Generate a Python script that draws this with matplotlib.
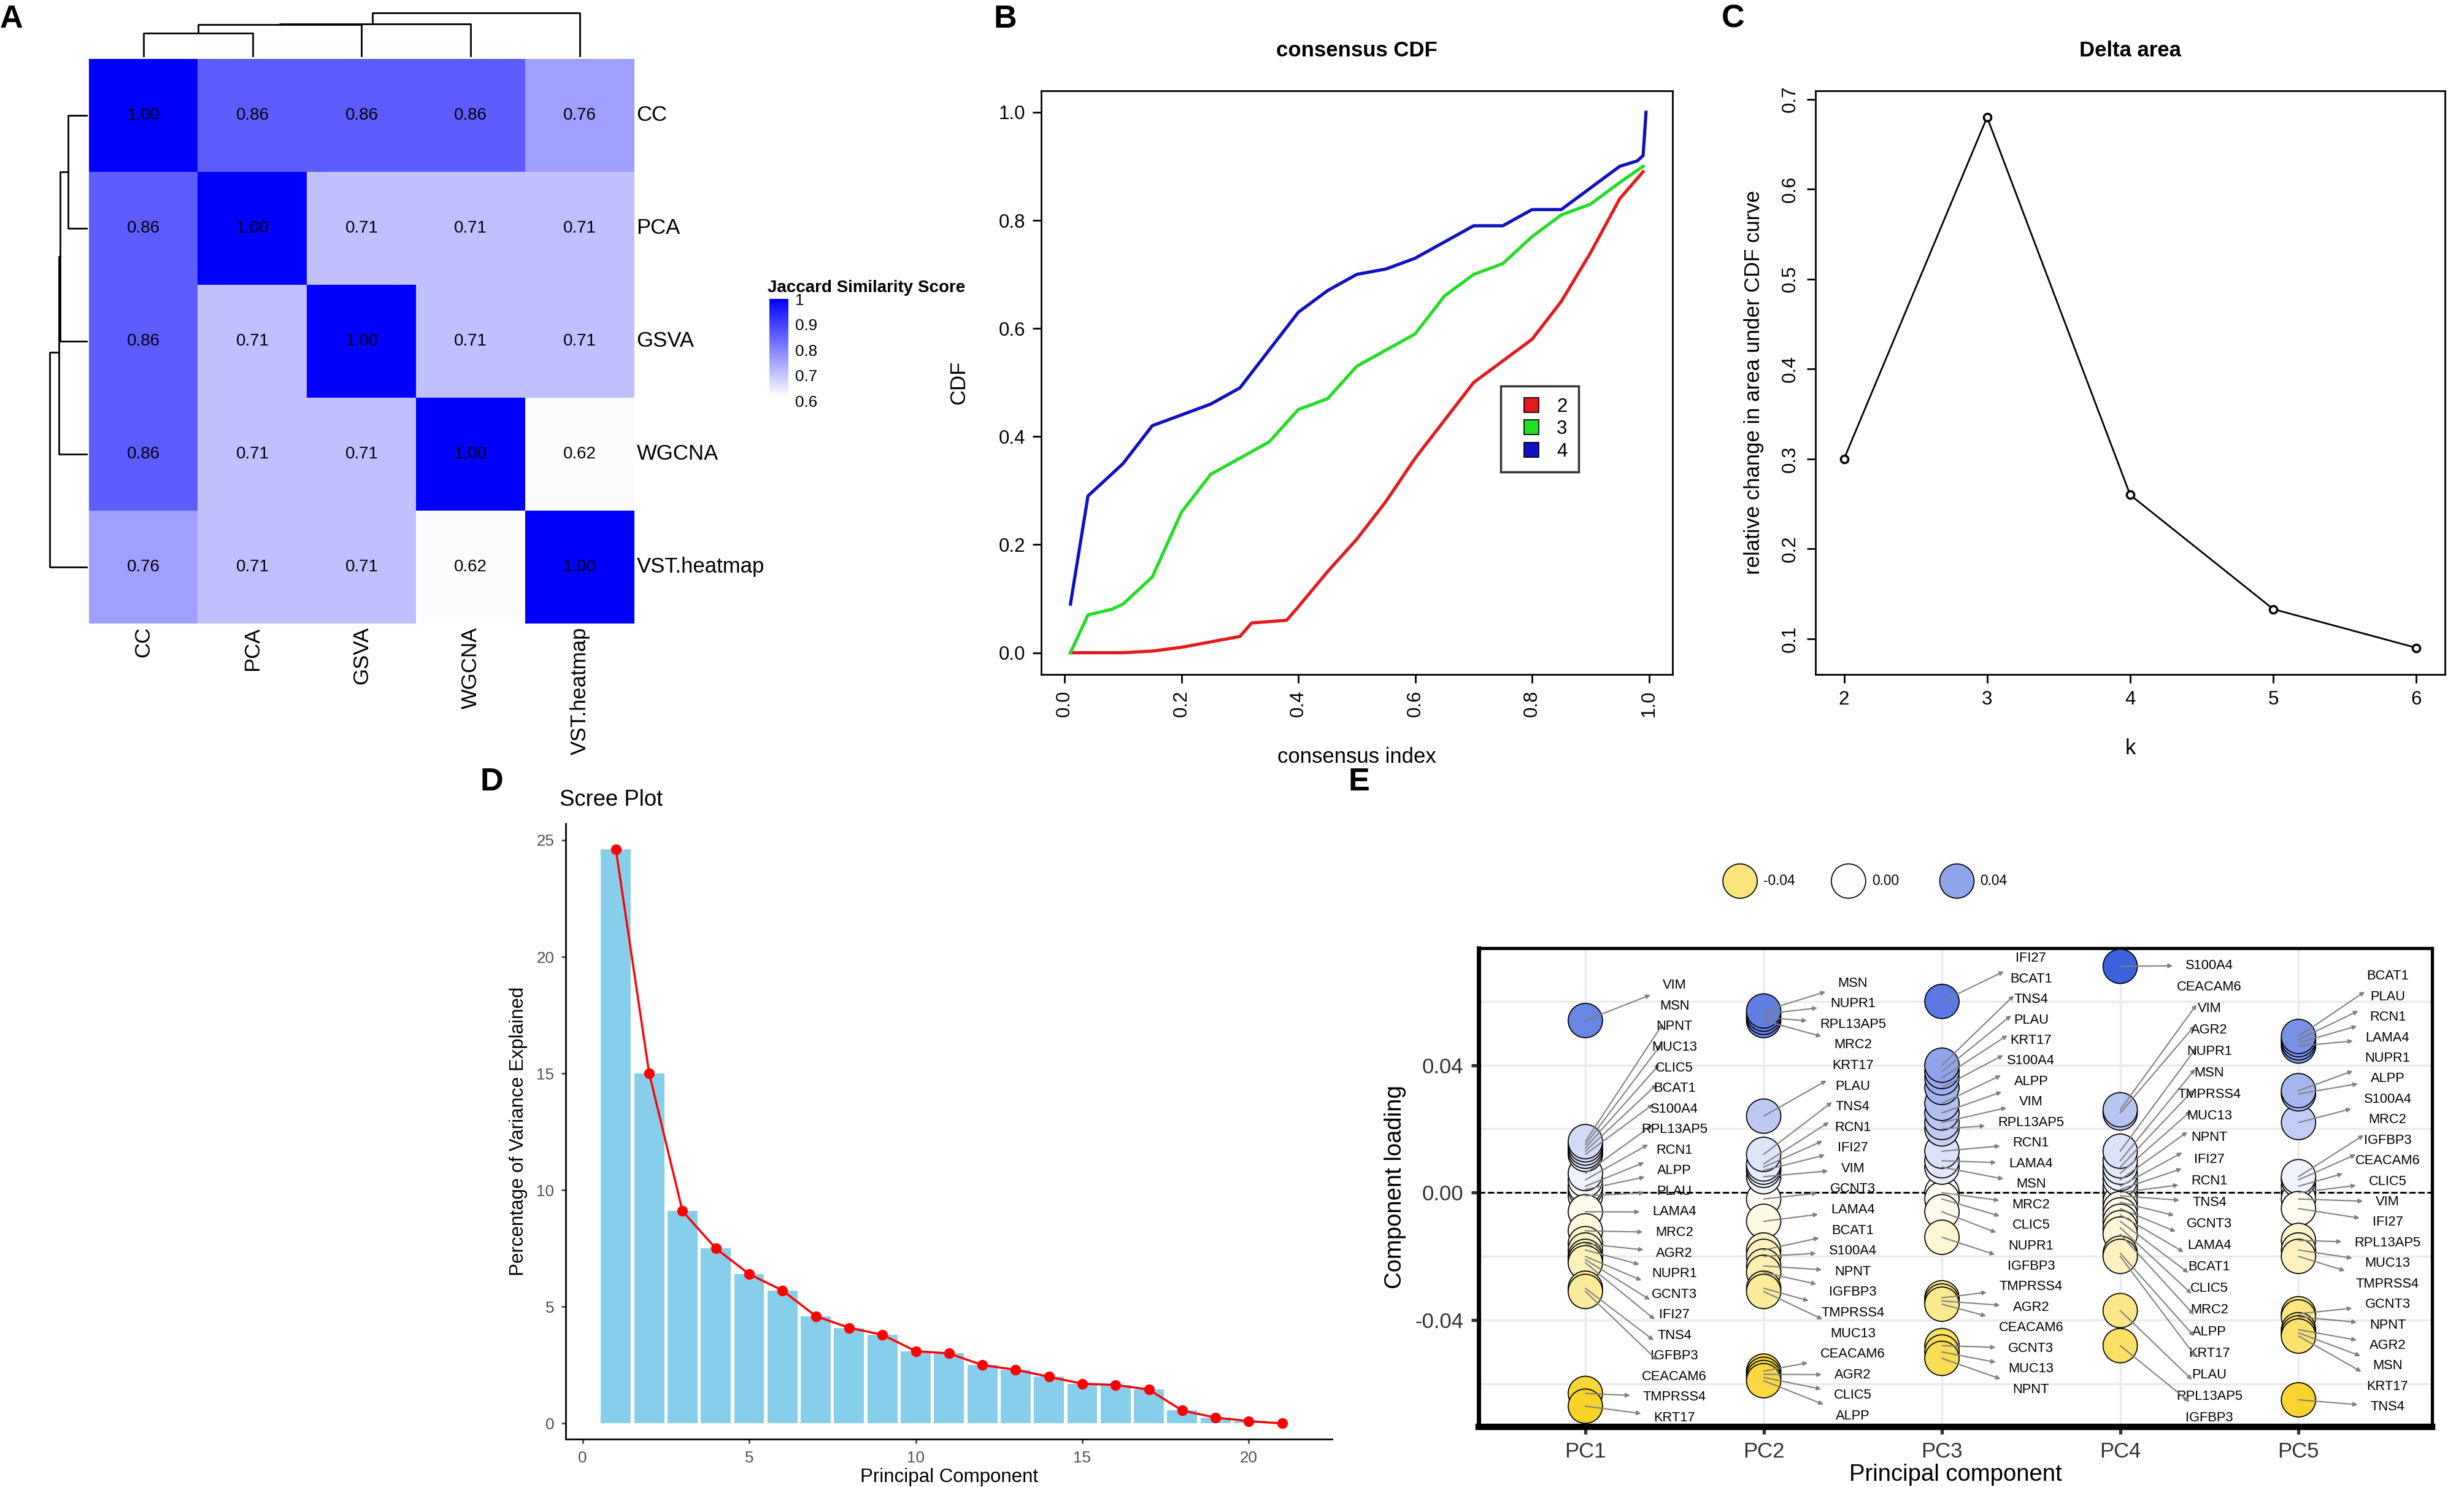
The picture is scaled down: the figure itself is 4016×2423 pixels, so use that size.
import numpy as np
import matplotlib.pyplot as plt
from matplotlib.colors import LinearSegmentedColormap

plt.rcParams['font.family'] = ['Liberation Sans', 'DejaVu Sans']

# ---------------- data ----------------
methods = ['CC', 'PCA', 'GSVA', 'WGCNA', 'VST.heatmap']
jaccard = [[1.00, 0.86, 0.86, 0.86, 0.76],
           [0.86, 1.00, 0.71, 0.71, 0.71],
           [0.86, 0.71, 1.00, 0.71, 0.71],
           [0.86, 0.71, 0.71, 1.00, 0.62],
           [0.76, 0.71, 0.71, 0.62, 1.00]]
# dendrogram merge heights (relative)
col_merge_h = [50, 68, 70, 93]
row_merge_h = [37, 52, 54, 72]

cdf_k2_x = [0.01, 0.10, 0.15, 0.20, 0.25, 0.30, 0.32, 0.38, 0.40, 0.45, 0.50, 0.55, 0.60, 0.65, 0.70, 0.75, 0.80, 0.85, 0.90, 0.95, 0.99]
cdf_k2_y = [0.00, 0.00, 0.003, 0.01, 0.02, 0.03, 0.055, 0.06, 0.085, 0.15, 0.21, 0.28, 0.36, 0.43, 0.50, 0.54, 0.58, 0.65, 0.74, 0.84, 0.89]
cdf_k3_x = [0.01, 0.04, 0.08, 0.10, 0.15, 0.20, 0.25, 0.30, 0.35, 0.40, 0.45, 0.50, 0.55, 0.60, 0.65, 0.70, 0.75, 0.80, 0.85, 0.90, 0.95, 0.99]
cdf_k3_y = [0.00, 0.07, 0.08, 0.09, 0.14, 0.26, 0.33, 0.36, 0.39, 0.45, 0.47, 0.53, 0.56, 0.59, 0.66, 0.70, 0.72, 0.77, 0.81, 0.83, 0.87, 0.90]
cdf_k4_x = [0.01, 0.04, 0.07, 0.10, 0.15, 0.20, 0.25, 0.30, 0.35, 0.40, 0.45, 0.50, 0.55, 0.60, 0.65, 0.70, 0.75, 0.80, 0.85, 0.90, 0.95, 0.98, 0.99, 0.995]
cdf_k4_y = [0.09, 0.29, 0.32, 0.35, 0.42, 0.44, 0.46, 0.49, 0.56, 0.63, 0.67, 0.70, 0.71, 0.73, 0.76, 0.79, 0.79, 0.82, 0.82, 0.86, 0.90, 0.91, 0.92, 1.00]

delta_k = [2, 3, 4, 5, 6]
delta_area = [0.30, 0.68, 0.26, 0.133, 0.09]

scree_pc = list(range(1, 22))
scree_var = [24.6, 15.0, 9.1, 7.5, 6.4, 5.7, 4.6, 4.1, 3.8, 3.1, 3.0, 2.5, 2.3, 2.0, 1.7, 1.65, 1.45, 0.55, 0.25, 0.1, 0.0]

pc_names = ['PC1', 'PC2', 'PC3', 'PC4', 'PC5']
pc1_genes = ['VIM', 'MSN', 'NPNT', 'MUC13', 'CLIC5', 'BCAT1', 'S100A4', 'RPL13AP5', 'RCN1', 'ALPP', 'PLAU', 'LAMA4', 'MRC2', 'AGR2', 'NUPR1', 'GCNT3', 'IFI27', 'TNS4', 'IGFBP3', 'CEACAM6', 'TMPRSS4', 'KRT17']
pc1_load = [0.054, 0.016, 0.015, 0.014, 0.013, 0.012, 0.006, 0.004, 0.002, 0.001, -0.001, -0.006, -0.012, -0.016, -0.018, -0.020, -0.021, -0.022, -0.030, -0.031, -0.063, -0.067]
pc2_genes = ['MSN', 'NUPR1', 'RPL13AP5', 'MRC2', 'KRT17', 'PLAU', 'TNS4', 'RCN1', 'IFI27', 'VIM', 'GCNT3', 'LAMA4', 'BCAT1', 'S100A4', 'NPNT', 'IGFBP3', 'TMPRSS4', 'MUC13', 'CEACAM6', 'AGR2', 'CLIC5', 'ALPP']
pc2_load = [0.057, 0.056, 0.055, 0.054, 0.024, 0.012, 0.009, 0.008, 0.007, 0.005, -0.002, -0.009, -0.018, -0.020, -0.023, -0.025, -0.030, -0.031, -0.056, -0.057, -0.058, -0.059]
pc3_genes = ['IFI27', 'BCAT1', 'TNS4', 'PLAU', 'KRT17', 'S100A4', 'ALPP', 'VIM', 'RPL13AP5', 'RCN1', 'LAMA4', 'MSN', 'MRC2', 'CLIC5', 'NUPR1', 'IGFBP3', 'TMPRSS4', 'AGR2', 'CEACAM6', 'GCNT3', 'MUC13', 'NPNT']
pc3_load = [0.060, 0.040, 0.038, 0.036, 0.033, 0.028, 0.025, 0.022, 0.020, 0.013, 0.010, 0.008, 0.000, -0.002, -0.006, -0.014, -0.033, -0.034, -0.035, -0.048, -0.050, -0.052]
pc4_genes = ['S100A4', 'CEACAM6', 'VIM', 'AGR2', 'NUPR1', 'MSN', 'TMPRSS4', 'MUC13', 'NPNT', 'IFI27', 'RCN1', 'TNS4', 'GCNT3', 'LAMA4', 'BCAT1', 'CLIC5', 'MRC2', 'ALPP', 'KRT17', 'PLAU', 'RPL13AP5', 'IGFBP3']
pc4_load = [0.071, 0.026, 0.025, 0.013, 0.010, 0.008, 0.006, 0.004, 0.002, 0.001, 0.000, -0.001, -0.003, -0.005, -0.007, -0.009, -0.011, -0.013, -0.019, -0.020, -0.037, -0.048]
pc5_genes = ['BCAT1', 'PLAU', 'RCN1', 'LAMA4', 'NUPR1', 'ALPP', 'S100A4', 'MRC2', 'IGFBP3', 'CEACAM6', 'CLIC5', 'VIM', 'IFI27', 'RPL13AP5', 'MUC13', 'TMPRSS4', 'GCNT3', 'NPNT', 'AGR2', 'MSN', 'KRT17', 'TNS4']
pc5_load = [0.049, 0.048, 0.047, 0.046, 0.032, 0.031, 0.022, 0.005, 0.004, 0.002, 0.000, -0.002, -0.005, -0.015, -0.018, -0.020, -0.038, -0.039, -0.043, -0.044, -0.045, -0.065]
legend_vals = [-0.04, 0.00, 0.04]

W, H = 1550.0, 935.0
fig = plt.figure(figsize=(16.064, 9.692), dpi=250)


def ax_at(x0, y0, x1, y1):
    return fig.add_axes([x0 / W, 1 - y1 / H, (x1 - x0) / W, (y1 - y0) / H])


def letter(x, y, s):
    fig.text(x / W, 1 - y / H, s, fontsize=15, fontweight='bold', va='center', ha='left')


# ---------------- A: heatmap ----------------
heat_cmap = LinearSegmentedColormap.from_list('wb', ['#FFFFFF', '#0000FF'])
ax = ax_at(56, 37, 399, 392)
M = np.array(jaccard)
im = ax.imshow(M, cmap=heat_cmap, vmin=0.615, vmax=1.0, extent=(0, 5, 5, 0), aspect='auto')
for i in range(5):
    for j in range(5):
        ax.text(j + 0.5, i + 0.5, '%.2f' % M[i, j], ha='center', va='center', fontsize=8)
ax.set_xlim(0, 5)
ax.set_ylim(5, 0)
ax.axis('off')
for i, m in enumerate(methods):
    ax.text(5.02, i + 0.5, m, ha='left', va='center', fontsize=10)
    ax.text(i + 0.5, 5.03, m, ha='center', va='top', rotation=90, fontsize=10)

# top dendrogram
axd = ax_at(56, 6, 399, 36)
axd.set_xlim(0, 5)
axd.set_ylim(0, 100)
axd.axis('off')
kw = dict(color='black', lw=0.8)
h = col_merge_h
axd.plot([0.5, 0.5, 1.5, 1.5], [0, h[0], h[0], 0], **kw)
axd.plot([1.0, 1.0, 2.5, 2.5], [h[0], h[1], h[1], 0], **kw)
axd.plot([1.75, 1.75, 3.5, 3.5], [h[1], h[2], h[2], 0], **kw)
axd.plot([2.6, 2.6, 4.5, 4.5], [h[2], h[3], h[3], 0], **kw)
# left dendrogram
axl = ax_at(22, 37, 55, 392)
axl.set_ylim(5, 0)
axl.set_xlim(100, 0)
axl.axis('off')
h = row_merge_h
axl.plot([0, h[0], h[0], 0], [0.5, 0.5, 1.5, 1.5], **kw)
axl.plot([h[0], h[1], h[1], 0], [1.0, 1.0, 2.5, 2.5], **kw)
axl.plot([h[1], h[2], h[2], 0], [1.75, 1.75, 3.5, 3.5], **kw)
axl.plot([h[2], h[3], h[3], 0], [2.6, 2.6, 4.5, 4.5], **kw)

cax = ax_at(484, 188, 496, 252)
cb = fig.colorbar(im, cax=cax, ticks=[0.6, 0.7, 0.8, 0.9, 1.0])
cb.ax.set_ylim(0.6, 1.0)
cb.ax.set_yticklabels(['0.6', '0.7', '0.8', '0.9', '1'], fontsize=7.5)
cb.outline.set_visible(False)
cb.ax.tick_params(length=2, color='white', pad=1)
fig.text(483 / W, 1 - 181 / H, 'Jaccard Similarity Score', fontsize=8, fontweight='bold', va='center')

# ---------------- B: consensus CDF ----------------
ax = ax_at(655, 57, 1052, 424)
ax.plot(cdf_k2_x, cdf_k2_y, color='#E41A1C', lw=1.5)
ax.plot(cdf_k3_x, cdf_k3_y, color='#22DD22', lw=1.5)
ax.plot(cdf_k4_x, cdf_k4_y, color='#1010C0', lw=1.5)
ax.set_xlim(-0.04, 1.04)
ax.set_ylim(-0.04, 1.04)
ax.set_xticks([0, 0.2, 0.4, 0.6, 0.8, 1.0])
ax.set_xticklabels(['0.0', '0.2', '0.4', '0.6', '0.8', '1.0'], rotation=90)
ax.set_yticks([0, 0.2, 0.4, 0.6, 0.8, 1.0])
ax.set_yticklabels(['0.0', '0.2', '0.4', '0.6', '0.8', '1.0'])
ax.tick_params(labelsize=9, direction='out', length=4)
ax.set_xlabel('consensus index', fontsize=10, labelpad=14)
ax.set_ylabel('CDF', fontsize=10, labelpad=14)
ax.set_title('consensus CDF', fontsize=10, fontweight='bold', pad=16)
hs = [plt.Line2D([], [], marker='s', ls='', mfc=c, mec='black', mew=0.5, ms=7) for c in ['#E41A1C', '#22DD22', '#1010C0']]
ax.legend(hs, ['2', '3', '4'], loc='center', bbox_to_anchor=(0.79, 0.42), fancybox=False,
          edgecolor='black', fontsize=9, handletextpad=0.3, borderpad=0.6, labelspacing=0.2)
letter(625, 12, 'B')

# ---------------- C: delta area ----------------
ax = ax_at(1142, 57, 1538, 424)
ax.plot(delta_k, delta_area, color='black', lw=0.8, marker='o', mfc='white', mec='black', ms=3.5)
ax.set_xticks(delta_k)
ax.set_yticks([0.1, 0.2, 0.3, 0.4, 0.5, 0.6, 0.7])
ax.tick_params(labelsize=9, direction='out', length=4)
plt.setp(ax.get_yticklabels(), rotation=90, va='center')
ax.set_xlabel('k', fontsize=10, labelpad=14)
ax.set_ylabel('relative change in area under CDF curve', fontsize=10, labelpad=8)
ax.set_title('Delta area', fontsize=10, fontweight='bold', pad=16)
letter(1083, 12, 'C')

# ---------------- D: scree ----------------
ax = ax_at(356, 518, 838, 905)
ax.bar(scree_pc, scree_var, width=0.9, color='#87CEEB')
ax.plot(scree_pc, scree_var, color='red', lw=1.0, marker='o', ms=4)
ax.set_xlim(-0.5, 22.5)
ax.set_ylim(-0.68, 25.7)
ax.set_xticks([0, 5, 10, 15, 20])
ax.set_yticks([0, 5, 10, 15, 20, 25])
ax.spines['top'].set_visible(False)
ax.spines['right'].set_visible(False)
ax.tick_params(labelsize=7.5, colors='#4D4D4D', length=2)
ax.set_xlabel('Principal Component', fontsize=9, labelpad=1)
ax.set_ylabel('Percentage of Variance Explained', fontsize=9)
fig.text(352 / W, 1 - 503 / H, 'Scree Plot', fontsize=10.5, va='center')
letter(302, 492, 'D')

# ---------------- E: loadings ----------------
load_cmap = LinearSegmentedColormap.from_list('yb', ['#F7D21E', '#FFFFFF', '#3D62DD'])
ax = ax_at(930, 596, 1530, 897)
genes_all = [pc1_genes, pc2_genes, pc3_genes, pc4_genes, pc5_genes]
loads_all = [pc1_load, pc2_load, pc3_load, pc4_load, pc5_load]
label_span = [(0.065, -0.0707), (0.0657, -0.0701), (0.0735, -0.0618), (0.0713, -0.0707), (0.0679, -0.0673)]
for k in range(5):
    xs = np.full(len(loads_all[k]), k + 1)
    ys = np.array(loads_all[k])
    order = np.argsort(np.abs(ys))
    ax.scatter(xs[order], ys[order], s=260, c=ys[order], cmap=load_cmap, vmin=-0.07, vmax=0.07,
               edgecolors='black', linewidths=0.5, zorder=3)
    ly = np.linspace(label_span[k][0], label_span[k][1], len(ys))
    for g, v, yy in zip(genes_all[k], ys, ly):
        ax.annotate(g, xy=(k + 1, v), xytext=(k + 1.5, yy), fontsize=6.3, ha='center', va='center',
                    arrowprops=dict(arrowstyle='<|-', color='#808080', lw=0.6, mutation_scale=4,
                                    shrinkA=4, shrinkB=0), zorder=4)
ax.axhline(0, color='black', ls='--', lw=0.8, zorder=2)
ax.set_xlim(0.4, 5.75)
ax.set_ylim(-0.0734, 0.0768)
ax.set_xticks([1, 2, 3, 4, 5])
ax.set_xticklabels(pc_names)
ax.set_yticks([-0.04, 0.0, 0.04])
ax.set_yticklabels(['-0.04', '0.00', '0.04'])
ax.set_yticks([-0.06, -0.02, 0.02, 0.06], minor=True)
ax.grid(True, which='both', color='#EBEBEB', lw=1.0, zorder=0)
ax.set_axisbelow(True)
ax.tick_params(which='minor', length=0)
ax.tick_params(labelsize=10, colors='#333333', width=1.5)
for s in ax.spines.values():
    s.set_linewidth(1.5)
ax.spines['bottom'].set_linewidth(3)
ax.spines['left'].set_linewidth(2)
ax.set_xlabel('Principal component', fontsize=11, labelpad=1)
ax.set_ylabel('Component loading', fontsize=11)

axg = ax_at(1080, 540, 1270, 568)
axg.scatter([0, 1.4, 2.8], [0, 0, 0], s=260, c=legend_vals, cmap=load_cmap, vmin=-0.07, vmax=0.07,
            edgecolors='black', linewidths=0.5)
for xx, v in zip([0, 1.4, 2.8], legend_vals):
    axg.text(xx + 0.3, 0, '%.2f' % v, fontsize=6.5, va='center', ha='left')
axg.set_xlim(-0.3, 3.6)
axg.set_ylim(-1, 1)
axg.axis('off')
letter(848, 492, 'E')

letter(0, 12, 'A')

fig.savefig('out.png', dpi=250)
